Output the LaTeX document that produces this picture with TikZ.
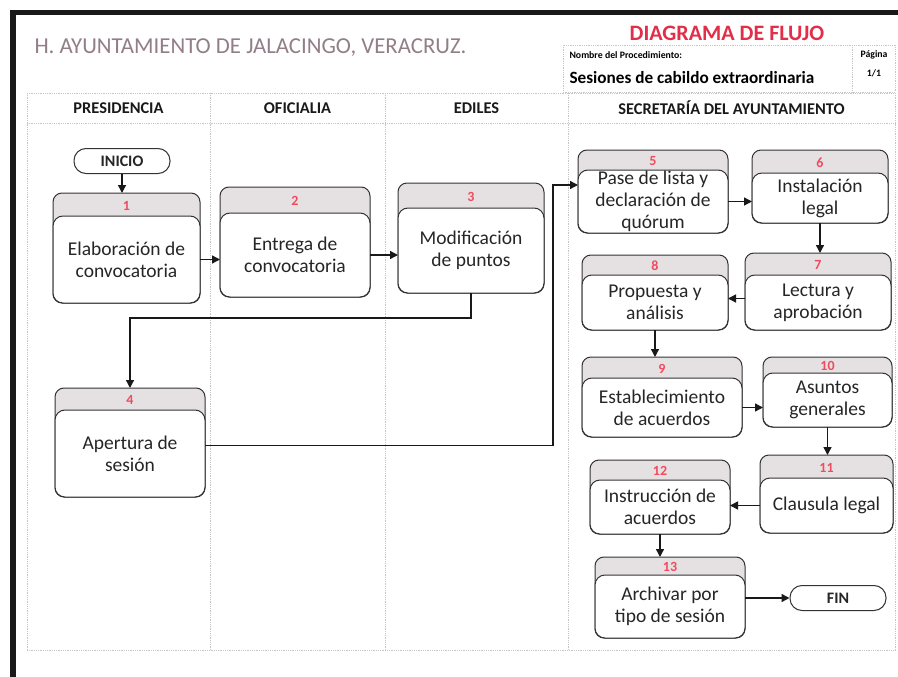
\documentclass[tikz,border=0pt]{standalone}
\usepackage{fontspec}
\setmainfont{Carlito}
\usetikzlibrary{arrows.meta}

\begin{document}
\begin{tikzpicture}[x=1pt,y=-1pt,
  lane/.style={draw=gray!45, densely dotted, line width=0.8pt},
  lanehead/.style={font=\fontsize{16.4}{16}\selectfont\bfseries, text=black!90},
  tabbox/.style={draw=black!80, fill=tabgray, line width=1pt, rounded corners=9pt, inner sep=0pt, outer sep=0pt},
  taskbox/.style={draw=black!80, fill=white, line width=1pt, rounded corners=10pt, inner sep=0pt, outer sep=0pt, align=center, text=black!85, font=\fontsize{19.5}{22}\selectfont},
  numtag/.style={text=numred, font=\fontsize{14}{14}\selectfont\bfseries},
  endpoint/.style={draw=black!80, line width=1pt, rounded corners=12pt, minimum width=96pt, minimum height=25pt, inner sep=0pt, font=\fontsize{16}{16}\selectfont\bfseries, text=black!85},
  flow/.style={line width=1.4pt, draw=black!90, -{Triangle[length=8pt,width=8pt]}}]
\definecolor{tabgray}{RGB}{229,225,227}
\definecolor{numred}{RGB}{240,75,95}
\definecolor{flujored}{RGB}{226,46,72}
\definecolor{titlegray}{RGB}{146,126,136}
\fill[white] (0,0) rectangle (898,677);
\useasboundingbox (0,0) rectangle (898,677);
\draw[line width=5.5pt, black!90] (13,677) -- (13,12.5) -- (898,12.5);
\node[anchor=west, text=titlegray, font=\fontsize{22.8}{23}\selectfont] (title) at (31,48) {H. AYUNTAMIENTO DE JALACINGO, VERACRUZ.};
\node[text=flujored, font=\fontsize{22}{22}\selectfont\bfseries] (diagrama) at (727,33) {DIAGRAMA DE FLUJO};
\draw[lane] (563,45) rectangle (895,92);
\draw[lane] (852,45) -- (852,92);
\node[anchor=west, font=\fontsize{9.8}{10}\selectfont\bfseries] (nombre) at (566,55) {Nombre del Procedimiento:};
\node[font=\fontsize{9.8}{10}\selectfont\bfseries] (pagina) at (874,55) {Página};
\node[anchor=west, font=\fontsize{17.2}{17}\selectfont\bfseries] (proc) at (566,78) {Sesiones de cabildo extraordinaria};
\node[font=\fontsize{9.8}{10}\selectfont\bfseries] (pag) at (874,73) {1/1};
\foreach \x in {27,210,385,568,895} \draw[lane] (\x,93) -- (\x,650);
\foreach \y in {93,123,650} \draw[lane] (27,\y) -- (895,\y);
\foreach \x/\name [count=\i] in {118.5/PRESIDENCIA, 297.5/OFICIALIA, 476.5/EDILES, 731.5/SECRETARÍA DEL AYUNTAMIENTO}
  \node[lanehead] (head\i) at (\x,108) {\name};
\node[endpoint] (inicio) at (122,161) {INICIO};
\node[endpoint] (fin) at (838,598) {FIN};
\foreach \n/\l/\r/\t/\w/\b/\txt in {
  1/53/200/193/216/303/{Elaboración de\\convocatoria},
  2/220/370/187/213/297/{Entrega de\\convocatoria},
  3/398/544/183/208/293/{Modificación\\de puntos},
  4/55/205/388/410/497/{Apertura de\\sesión},
  5/578/728/150/170/233/{Pase de lista y\\declaración de\\quórum},
  6/752/888/150/173/223/{Instalación\\legal},
  7/745/891/253/275/330/{Lectura y\\aprobación},
  8/582/728/255/275/330/{Propuesta y\\análisis},
  9/582/742/357/378/437/{Establecimiento\\de acuerdos},
  10/763/892/357/373/427/{Asuntos\\generales},
  11/760/893/455/478/533/{Clausula legal},
  12/590/730/460/480/534/{Instrucción de\\acuerdos},
  13/595/745/557/575/638/{Archivar por\\tipo de sesión}}
{
  \pgfmathsetlengthmacro\bw{\r-\l}
  \pgfmathsetlengthmacro\th{\b-\t}
  \pgfmathsetlengthmacro\bh{\b-\w}
  \node[tabbox, minimum width=\bw, minimum height=\th] (tab\n) at ({(\l+\r)/2},{(\t+\b)/2}) {};
  \node[numtag] (num\n) at ({(\l+\r)/2},{(\t+\w)/2+1}) {\n};
  \node[taskbox, minimum width=\bw, minimum height=\bh] (box\n) at ({(\l+\r)/2},{(\w+\b)/2}) {\txt};
}
\coordinate (turn5) at (553,185);
\draw[flow] (inicio) -- (inicio |- tab1.north);
\draw[flow] (box1.east) -- (box1.east -| box2.west);
\draw[flow] (box2.east) -- (box2.east -| box3.west);
\draw[flow] (box3.south) -- ++(0,25) -| (tab4.north);
\draw[flow] ([yshift=8pt]box4.east) -| (turn5) -- (turn5 -| box5.west);
\draw[flow] (box5.east) -- (box5.east -| box6.west);
\draw[flow] (box6.south) -- (box6.south |- tab7.north);
\draw[flow] ([yshift=4pt]box7.west) -- ([yshift=4pt]box7.west -| box8.east);
\draw[flow] (box8.south) -- (box8.south |- tab9.north);
\draw[flow] (box9.east) -- (box9.east -| box10.west);
\draw[flow] (box10.south) -- (box10.south |- tab11.north);
\draw[flow] (box11.west) -- (box11.west -| box12.east);
\draw[flow] (box12.south) -- (box12.south |- tab13.north);
\draw[flow] (fin.west -| box13.east) -- (fin.west);
\end{tikzpicture}
\end{document}
